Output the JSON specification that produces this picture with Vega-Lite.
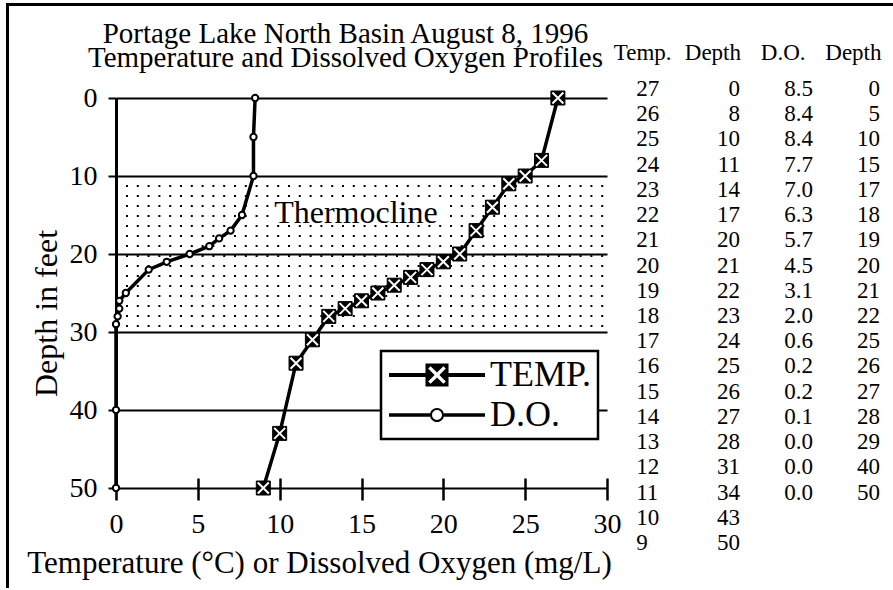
{
  "$schema": "https://vega.github.io/schema/vega-lite/v6.json",
  "padding": {"left": 6, "top": 3, "right": 0, "bottom": 0},
  "background": "white",
  "config": {
    "view": {"stroke": null},
    "font": "Liberation Serif",
    "axis": {"labelColor": "black", "titleColor": "black", "titleFontWeight": "normal", "labelFlush": false, "labelOverlap": false, "labelBound": false},
    "legend": {"strokeWidth": 2.5}
  },
  "datasets": {
    "profile": [
      {"series": "TEMP.", "value": 27, "depth": 0},
      {"series": "TEMP.", "value": 26, "depth": 8},
      {"series": "TEMP.", "value": 25, "depth": 10},
      {"series": "TEMP.", "value": 24, "depth": 11},
      {"series": "TEMP.", "value": 23, "depth": 14},
      {"series": "TEMP.", "value": 22, "depth": 17},
      {"series": "TEMP.", "value": 21, "depth": 20},
      {"series": "TEMP.", "value": 20, "depth": 21},
      {"series": "TEMP.", "value": 19, "depth": 22},
      {"series": "TEMP.", "value": 18, "depth": 23},
      {"series": "TEMP.", "value": 17, "depth": 24},
      {"series": "TEMP.", "value": 16, "depth": 25},
      {"series": "TEMP.", "value": 15, "depth": 26},
      {"series": "TEMP.", "value": 14, "depth": 27},
      {"series": "TEMP.", "value": 13, "depth": 28},
      {"series": "TEMP.", "value": 12, "depth": 31},
      {"series": "TEMP.", "value": 11, "depth": 34},
      {"series": "TEMP.", "value": 10, "depth": 43},
      {"series": "TEMP.", "value": 9, "depth": 50},
      {"series": "D.O.", "value": 8.5, "depth": 0},
      {"series": "D.O.", "value": 8.4, "depth": 5},
      {"series": "D.O.", "value": 8.4, "depth": 10},
      {"series": "D.O.", "value": 7.7, "depth": 15},
      {"series": "D.O.", "value": 7.0, "depth": 17},
      {"series": "D.O.", "value": 6.3, "depth": 18},
      {"series": "D.O.", "value": 5.7, "depth": 19},
      {"series": "D.O.", "value": 4.5, "depth": 20},
      {"series": "D.O.", "value": 3.1, "depth": 21},
      {"series": "D.O.", "value": 2.0, "depth": 22},
      {"series": "D.O.", "value": 0.6, "depth": 25},
      {"series": "D.O.", "value": 0.2, "depth": 26},
      {"series": "D.O.", "value": 0.2, "depth": 27},
      {"series": "D.O.", "value": 0.1, "depth": 28},
      {"series": "D.O.", "value": 0.0, "depth": 29},
      {"series": "D.O.", "value": 0.0, "depth": 40},
      {"series": "D.O.", "value": 0.0, "depth": 50}
    ],
    "dotrows": [
      {"depth": 11.28}, {"depth": 12.56}, {"depth": 13.85}, {"depth": 15.13}, {"depth": 16.41},
      {"depth": 17.69}, {"depth": 18.97}, {"depth": 20.26}, {"depth": 21.54}, {"depth": 22.82},
      {"depth": 24.10}, {"depth": 25.38}, {"depth": 26.67}, {"depth": 27.95}, {"depth": 29.23}
    ]
  },
  "bounds": "flush",
  "spacing": 0,
  "hconcat": [
    {
      "width": 1, "height": 583,
      "data": {"values": []},
      "mark": {"type": "point", "opacity": 0},
      "view": {"stroke": "black", "strokeWidth": 2}
    },
    {
      "bounds": "flush",
      "spacing": 93,
      "vconcat": [
        {
          "width": 884, "height": 1,
          "data": {"values": []},
          "mark": {"type": "point", "opacity": 0},
          "view": {"stroke": "black", "strokeWidth": 2}
        },
        {
          "bounds": "flush",
          "spacing": 3,
          "hconcat": [
            {
              "width": 105, "height": 1,
              "data": {"values": []},
              "mark": {"type": "point", "opacity": 0}
            },
            {
              "width": 491, "height": 390,
              "title": {
                "text": ["Portage Lake North Basin August 8, 1996", "Temperature and Dissolved Oxygen Profiles"],
                "font": "Liberation Serif", "fontSize": 29, "fontWeight": "normal", "color": "black",
                "anchor": "middle", "frame": "group", "dx": -16, "dy": 29, "offset": 11, "lineHeight": 24, "baseline": "bottom"
              },
              "layer": [
                {
                  "data": {"name": "dotrows"},
                  "mark": {"type": "rule", "color": "black", "strokeWidth": 2, "strokeDash": [2, 8.8], "strokeDashOffset": 0.8, "strokeCap": "butt"},
                  "encoding": {
                    "x": {"datum": 0, "type": "quantitative", "scale": {"domain": [0, 30], "nice": false, "zero": false}},
                    "x2": {"datum": 30},
                    "y": {"field": "depth", "type": "quantitative", "scale": {"domain": [0, 50], "nice": false, "reverse": true}}
                  }
                },
                {
                  "data": {"values": [{"note": "Thermocline"}]},
                  "mark": {"type": "rect", "fill": "white"},
                  "encoding": {
                    "x": {"datum": 9.4, "type": "quantitative"},
                    "x2": {"datum": 20.0},
                    "y": {"datum": 13.2, "type": "quantitative"},
                    "y2": {"datum": 15.8}
                  }
                },
                {
                  "data": {"values": [{"note": "Thermocline"}]},
                  "mark": {"type": "text", "font": "Liberation Serif", "fontSize": 32, "color": "black", "align": "center", "baseline": "middle"},
                  "encoding": {
                    "x": {"datum": 14.66, "type": "quantitative"},
                    "y": {"datum": 14.8, "type": "quantitative"},
                    "text": {"field": "note"}
                  }
                },
                {
                  "data": {"name": "profile"},
                  "mark": {"type": "line", "color": "black", "strokeWidth": 3.5},
                  "encoding": {
                    "x": {
                      "field": "value", "type": "quantitative",
                      "axis": {
                        "title": "Temperature (°C) or Dissolved Oxygen (mg/L)",
                        "values": [0, 5, 10, 15, 20, 25, 30],
                        "grid": false, "domain": false,
                        "ticks": true, "tickSize": 22, "tickWidth": 2.5, "tickColor": "black",
                        "offset": -10,
                        "labelFontSize": 28, "labelPadding": 10,
                        "titleFontSize": 31, "titlePadding": 10, "titleX": 203, "titleAnchor": "middle"
                      }
                    },
                    "y": {
                      "field": "depth", "type": "quantitative",
                      "axis": {
                        "title": "Depth in feet",
                        "values": [0, 10, 20, 30, 40, 50],
                        "grid": true, "gridColor": "black", "gridWidth": 2, "gridOpacity": 1,
                        "domain": true, "domainColor": "black", "domainWidth": 3,
                        "tickSize": 8, "tickWidth": 2, "tickColor": "black",
                        "labelFontSize": 28, "labelPadding": 11,
                        "titleFontSize": 32, "titlePadding": 6, "titleY": 215
                      }
                    },
                    "detail": {"field": "series"},
                    "order": {"field": "depth", "type": "quantitative"}
                  }
                },
                {
                  "data": {"name": "profile"},
                  "transform": [{"filter": "datum.series === 'D.O.'"}],
                  "mark": {"type": "point", "shape": "circle", "filled": true, "fill": "white", "stroke": "black", "strokeWidth": 2, "opacity": 1, "size": 40},
                  "encoding": {
                    "x": {"field": "value", "type": "quantitative"},
                    "y": {"field": "depth", "type": "quantitative"}
                  }
                },
                {
                  "data": {"name": "profile"},
                  "transform": [{"filter": "datum.series === 'TEMP.'"}],
                  "mark": {"type": "point", "shape": "square", "filled": true, "fill": "black", "stroke": "black", "strokeWidth": 1, "opacity": 1, "size": 196},
                  "encoding": {
                    "x": {"field": "value", "type": "quantitative"},
                    "y": {"field": "depth", "type": "quantitative"}
                  }
                },
                {
                  "data": {"name": "profile"},
                  "transform": [{"filter": "datum.series === 'TEMP.'"}],
                  "mark": {"type": "point", "shape": "M-1,-1L1,1M-1,1L1,-1", "filled": false, "stroke": "white", "strokeWidth": 2, "opacity": 1, "size": 121},
                  "encoding": {
                    "x": {"field": "value", "type": "quantitative"},
                    "y": {"field": "depth", "type": "quantitative"}
                  }
                },
                {
                  "data": {"name": "profile"},
                  "transform": [{"filter": "false"}],
                  "mark": {"type": "point", "filled": true, "color": "black", "strokeWidth": 0, "opacity": 1},
                  "encoding": {
                    "x": {"field": "value", "type": "quantitative"},
                    "y": {"field": "depth", "type": "quantitative"},
                    "shape": {
                      "field": "series", "type": "nominal",
                      "scale": {
                        "domain": ["TEMP.", "D.O."],
                        "range": [
                          "M-3,-0.125H-0.72V0.125H-3Z M0.72,-0.125H3V0.125H0.72Z M-0.72,-0.72H0.72V0.72H-0.72Z M-0.15,0L-0.55,0.4L-0.4,0.55L0,0.15L0.4,0.55L0.55,0.4L0.15,0L0.55,-0.4L0.4,-0.55L0,-0.15L-0.4,-0.55L-0.55,-0.4Z",
                          "M-3,-0.11H-0.44V0.11H-3Z M0.44,-0.11H3V0.11H0.44Z M0.44,0A0.44,0.44 0 1,1 -0.44,0A0.44,0.44 0 1,1 0.44,0Z M0.31,0A0.31,0.31 0 1,0 -0.31,0A0.31,0.31 0 1,0 0.31,0Z"
                        ]
                      },
                      "legend": {
                        "title": null, "orient": "none", "legendX": 374, "legendY": 347,
                        "labelFont": "Liberation Serif", "labelFontSize": 36, "labelColor": "black", "labelLimit": 0,
                        "symbolSize": 1024, "symbolOffset": 32, "labelOffset": 35,
                        "symbolFillColor": "black", "symbolStrokeWidth": 0, "symbolOpacity": 1,
                        "padding": 6, "rowPadding": 4,
                        "fillColor": "white", "strokeColor": "black"
                      }
                    }
                  }
                }
              ]
            },
            {
              "width": 281, "height": 454,
              "data": {"name": "profile"},
              "transform": [
                {"window": [{"op": "row_number", "as": "i"}], "groupby": ["series"], "sort": [{"field": "depth", "order": "ascending"}]}
              ],
              "encoding": {
                "y": {"field": "i", "type": "quantitative", "axis": null, "scale": {"domain": [1, 19], "nice": false, "zero": false, "reverse": true}}
              },
              "layer": [
                {
                  "transform": [{"filter": "datum.series === 'TEMP.'"}],
                  "mark": {"type": "text", "align": "left", "baseline": "middle", "dx": -9, "dy": -9, "fontSize": 23, "color": "black"},
                  "encoding": {
                    "x": {
                      "datum": "c1", "type": "nominal",
                      "scale": {"domain": ["c1", "c2", "c3", "c4"]},
                      "axis": {
                        "orient": "top", "title": null, "domain": false, "ticks": false, "tickSize": 0, "grid": false,
                        "labelAngle": 0, "labelFontSize": 23, "labelPadding": 39, "labelBaseline": "alphabetic", "labelOffset": -3,
                        "labelExpr": "datum.value === 'c1' ? 'Temp.' : datum.value === 'c3' ? 'D.O.' : 'Depth'"
                      }
                    },
                    "text": {"field": "value", "type": "quantitative", "format": "d"}
                  }
                },
                {
                  "transform": [{"filter": "datum.series === 'TEMP.'"}],
                  "mark": {"type": "text", "align": "right", "baseline": "middle", "dx": 24.6, "dy": -9, "fontSize": 23, "color": "black"},
                  "encoding": {
                    "x": {"datum": "c2", "type": "nominal"},
                    "text": {"field": "depth", "type": "quantitative", "format": "d"}
                  }
                },
                {
                  "transform": [{"filter": "datum.series === 'D.O.'"}],
                  "mark": {"type": "text", "align": "right", "baseline": "middle", "dx": 27.4, "dy": -9, "fontSize": 23, "color": "black"},
                  "encoding": {
                    "x": {"datum": "c3", "type": "nominal"},
                    "text": {"field": "value", "type": "quantitative", "format": ".1f"}
                  }
                },
                {
                  "transform": [{"filter": "datum.series === 'D.O.'"}],
                  "mark": {"type": "text", "align": "right", "baseline": "middle", "dx": 24, "dy": -9, "fontSize": 23, "color": "black"},
                  "encoding": {
                    "x": {"datum": "c4", "type": "nominal"},
                    "text": {"field": "depth", "type": "quantitative", "format": "d"}
                  }
                }
              ]
            }
          ]
        }
      ]
    }
  ]
}
